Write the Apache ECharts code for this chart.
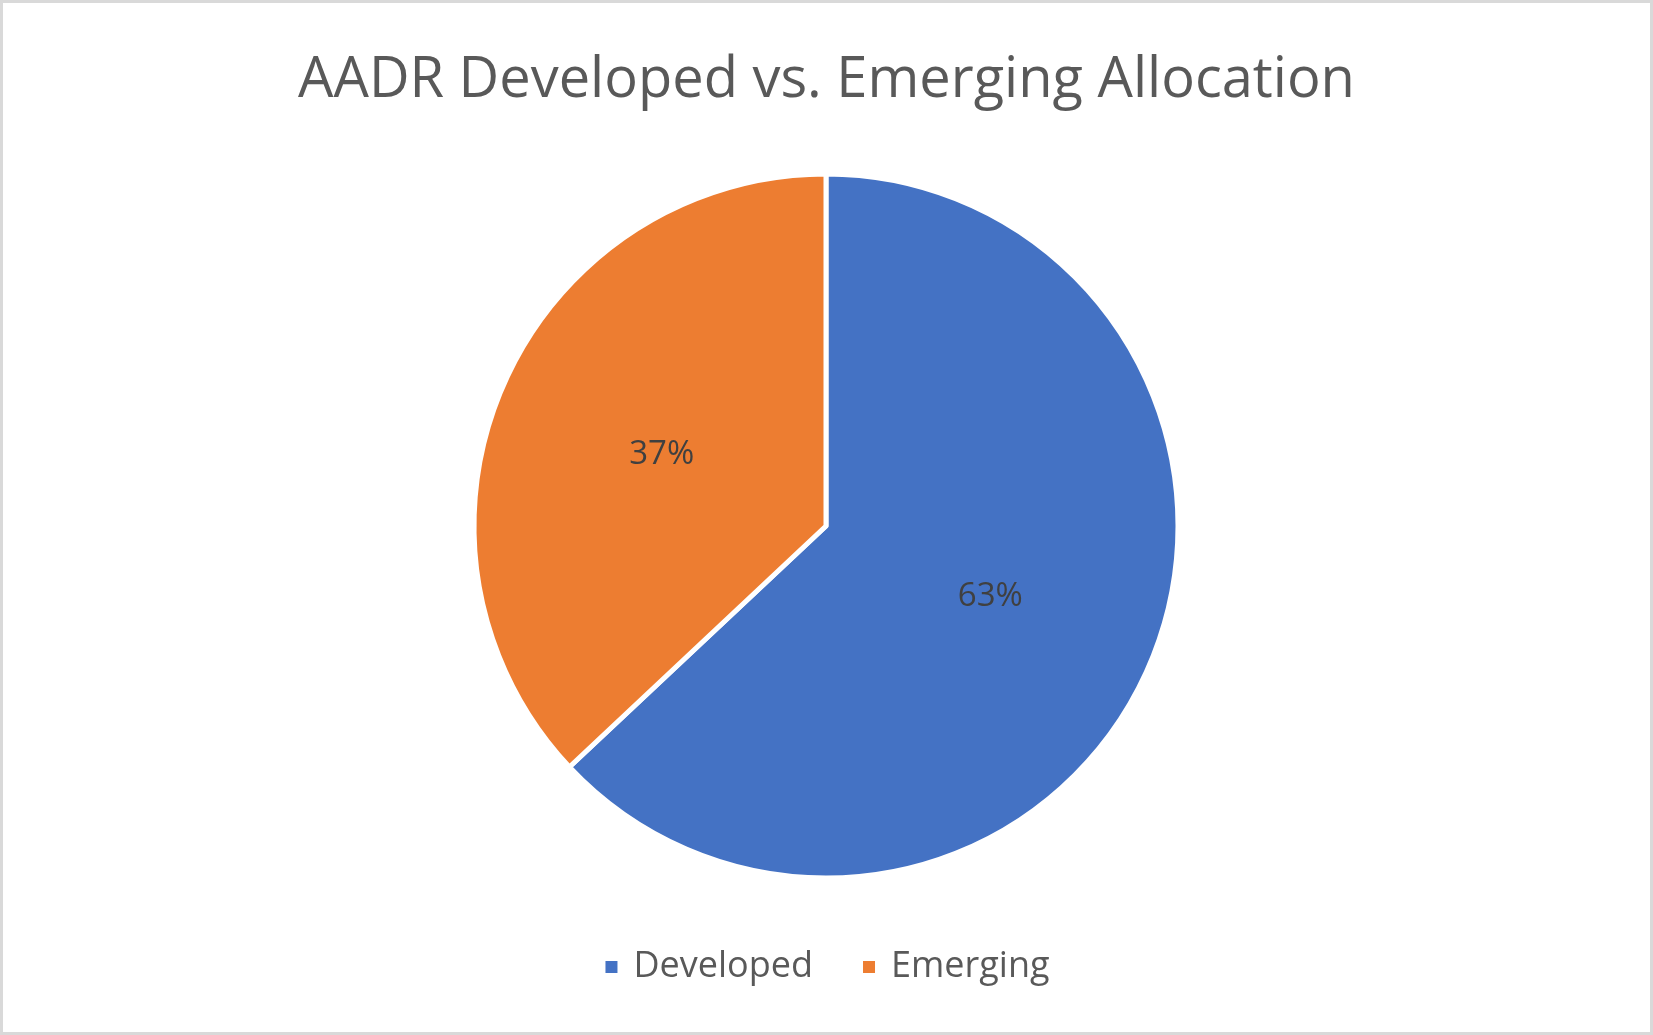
<!DOCTYPE html>
<html>
<head>
<meta charset="utf-8">
<script src="https://cdn.jsdelivr.net/npm/echarts@6/dist/echarts.min.js"></script>
<style>
  html, body { margin: 0; padding: 0; background: #fff; }
  #main { width: 1653px; height: 1035px; box-sizing: border-box; border: 3px solid #d9d9d9; }
</style>
</head>
<body>
<div id="main"></div>
<script>
var titleText = 'AADR Developed vs. Emerging Allocation';
var categories = ['Developed', 'Emerging'];
var shares = [63, 37];
var colors = ['#4472C4', '#ED7D31'];

var myChart = echarts.init(document.getElementById('main'));

var pieData = [];
for (var i = 0; i < categories.length; i++) {
    pieData.push({ name: categories[i], value: shares[i], itemStyle: { color: colors[i] } });
}

var option = {
    backgroundColor: '#ffffff',
    animation: false,
    textStyle: { fontFamily: 'Open Sans' },
    title: {
        text: titleText,
        left: 'center',
        top: 45,
        textStyle: { color: '#595959', fontSize: 56, fontWeight: 'normal', fontFamily: 'Open Sans' }
    },
    legend: {
        data: categories,
        bottom: 42,
        left: 'center',
        icon: 'rect',
        itemWidth: 14,
        itemHeight: 14,
        itemGap: 48,
        textStyle: { color: '#595959', fontSize: 36, fontFamily: 'Open Sans', padding: [0, 0, 0, 10] }
    },
    series: [
        {
            name: 'Allocation',
            type: 'pie',
            center: [823, 523],
            radius: 352,
            startAngle: 90,
            clockwise: true,
            data: pieData,
            itemStyle: { borderColor: '#ffffff', borderWidth: 5 },
            label: {
                show: true,
                position: 'inside',
                formatter: '{d}%',
                color: '#404040',
                fontSize: 33,
                fontFamily: 'Open Sans'
            },
            labelLine: { show: false },
            emphasis: { disabled: true }
        }
    ]
};

myChart.setOption(option);
</script>
</body>
</html>
